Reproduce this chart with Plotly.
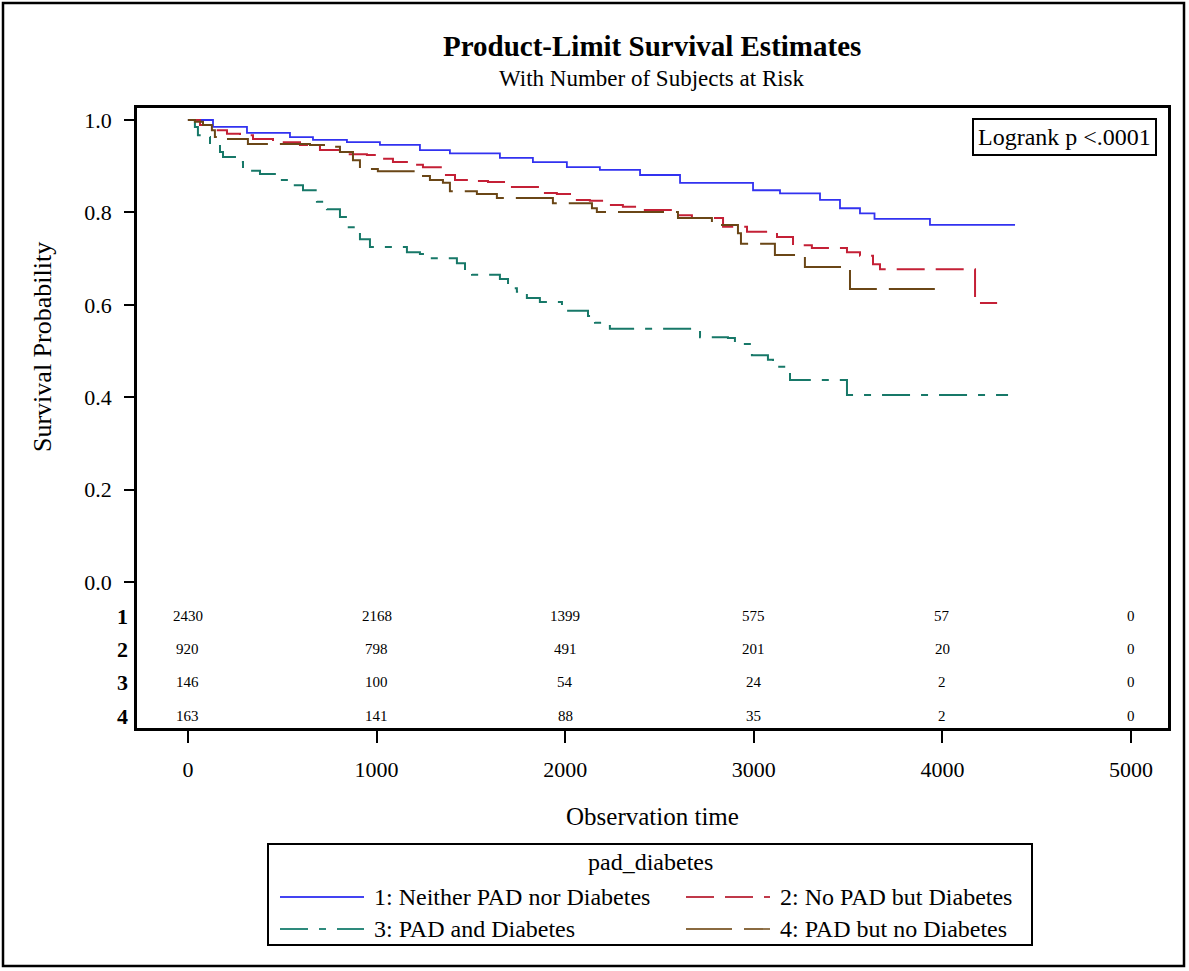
import plotly.graph_objects as go

# ---------------- data ----------------
group_names = ["1: Neither PAD nor Diabetes", "2: No PAD but Diabetes",
               "3: PAD and Diabetes", "4: PAD but no Diabetes"]

t1 = [0, 133, 313, 541, 663, 843, 1018, 1230, 1389, 1654, 1829, 2009, 2184, 2397,
      2609, 2996, 3139, 3351, 3457, 3563, 3640, 3934, 4385]
s1 = [1.0, 0.985, 0.972, 0.963, 0.957, 0.952, 0.946, 0.935, 0.928, 0.918, 0.909, 0.898,
      0.892, 0.881, 0.864, 0.848, 0.841, 0.827, 0.809, 0.798, 0.786, 0.773, 0.773]

t2 = [0, 64, 133, 207, 276, 345, 451, 594, 700, 806, 949, 1018, 1087, 1177, 1246, 1347,
      1416, 1532, 1591, 1707, 1882, 1956, 2062, 2131, 2237, 2306, 2397, 2593, 2672, 2837,
      2964, 3123, 3208, 3308, 3494, 3563, 3632, 3669, 4173, 4290]
s2 = [1.0, 0.989, 0.978, 0.970, 0.967, 0.959, 0.952, 0.946, 0.935, 0.926, 0.924, 0.916,
      0.909, 0.903, 0.898, 0.881, 0.870, 0.868, 0.866, 0.855, 0.842, 0.840, 0.827, 0.825,
      0.816, 0.812, 0.805, 0.794, 0.788, 0.769, 0.758, 0.747, 0.729, 0.723, 0.714, 0.706,
      0.688, 0.677, 0.604, 0.604]

t3 = [0, 37, 53, 74, 117, 170, 186, 265, 292, 382, 472, 541, 610, 684, 737, 806, 843,
      912, 965, 1161, 1230, 1272, 1426, 1469, 1506, 1654, 1697, 1744, 1797, 1866, 1983,
      2009, 2121, 2158, 2237, 2715, 2863, 2900, 2990, 3075, 3102, 3192, 3494, 4348]
s3 = [1.0, 0.985, 0.967, 0.963, 0.948, 0.931, 0.920, 0.909, 0.890, 0.883, 0.870, 0.859,
      0.848, 0.823, 0.807, 0.790, 0.768, 0.742, 0.725, 0.714, 0.710, 0.701, 0.690, 0.671,
      0.665, 0.656, 0.636, 0.628, 0.615, 0.606, 0.593, 0.587, 0.576, 0.561, 0.548, 0.530,
      0.528, 0.515, 0.491, 0.481, 0.466, 0.437, 0.405, 0.405]

t4 = [0, 37, 80, 127, 143, 170, 318, 647, 737, 806, 875, 912, 1007, 1219, 1283, 1352,
      1389, 1532, 1638, 1935, 2142, 2168, 2598, 2778, 2916, 2932, 3112, 3271, 3510, 4014]
s4 = [1.0, 0.996, 0.989, 0.978, 0.963, 0.959, 0.948, 0.946, 0.942, 0.931, 0.913, 0.894,
      0.889, 0.879, 0.870, 0.864, 0.846, 0.840, 0.831, 0.820, 0.809, 0.801, 0.788, 0.773,
      0.755, 0.732, 0.708, 0.682, 0.634, 0.634]

risk_times = [0, 1000, 2000, 3000, 4000, 5000]
risk_labels = ["1", "2", "3", "4"]
risk_counts = [
    [2430, 2168, 1399, 575, 57, 0],
    [920, 798, 491, 201, 20, 0],
    [146, 100, 54, 24, 2, 0],
    [163, 141, 88, 35, 2, 0],
]

x_ticks = [0, 1000, 2000, 3000, 4000, 5000]
y_ticks = [0.0, 0.2, 0.4, 0.6, 0.8, 1.0]

# ---------------- styles ----------------
colors = ["#3232F0", "#C42036", "#177868", "#6A4616"]
dashes = ["solid", "28px,11px", "28px,11px,7px,11px", "46px,12px"]
widths = [1.8, 2.0, 2.0, 2.0]
legend_colors = ["#4444F2", "#C0394A", "#2E8A7C", "#8A6A40"]

W, H = 1189, 971
PL, PR, PT, PB = 137, 1168, 108, 728  # plot area pixel edges


def px2x(px):
    return (px - PL) / (PR - PL)


def py2y(py):
    return (PB - py) / (PB - PT)


SERIF = "Liberation Serif, Times New Roman, serif"


def label(text, px, py, size, xanchor="center", yanchor="middle", **kw):
    return dict(text=text, xref="paper", yref="paper", x=px2x(px), y=py2y(py),
                xanchor=xanchor, yanchor=yanchor, showarrow=False,
                font=dict(family=SERIF, size=size, color="black"), **kw)


fig = go.Figure()
series = [(t1, s1), (t2, s2), (t3, s3), (t4, s4)]
for i, (t, s) in enumerate(series):
    fig.add_trace(go.Scatter(
        x=t, y=s, mode="lines", name=group_names[i],
        line=dict(color=colors[i], dash=dashes[i], width=widths[i], shape="hv"),
        showlegend=False, hoverinfo="x+y+name",
    ))

annotations = []
annotations.append(label("<b>Product-Limit Survival Estimates</b>", 652, 46, 29))
annotations.append(label("With Number of Subjects at Risk", 652, 79, 23))
annotations.append(label("Survival Probability", 42, 347, 26, textangle=-90))
annotations.append(label("Observation time", 652, 816, 25))
annotations.append(label("Logrank p <.0001", 1157, 118, 24, xanchor="right", yanchor="top",
                         bordercolor="black", borderwidth=2, borderpad=4, bgcolor="white"))

# at-risk table
row_py = [616, 649, 682, 716]
for r, lab in enumerate(risk_labels):
    annotations.append(label("<b>" + lab + "</b>", 122, row_py[r], 22))
    for c, tt in enumerate(risk_times):
        annotations.append(dict(text=str(risk_counts[r][c]), xref="x", yref="paper",
                                x=tt, y=py2y(row_py[r]), xanchor="center", yanchor="middle",
                                showarrow=False,
                                font=dict(family=SERIF, size=15, color="black")))

shapes = []
shapes.append(dict(type="rect", xref="paper", yref="paper",
                   x0=px2x(3), x1=px2x(1184), y0=py2y(966), y1=py2y(3),
                   line=dict(color="black", width=2.5), layer="below"))
# legend
shapes.append(dict(type="rect", xref="paper", yref="paper",
                   x0=px2x(268), x1=px2x(1032), y0=py2y(945), y1=py2y(844),
                   line=dict(color="black", width=2)))
annotations.append(label("pad_diabetes", 650, 862, 24))
leg_pos = [(280, 897), (686, 897), (280, 929), (686, 929)]
for i, (lx, ly) in enumerate(leg_pos):
    shapes.append(dict(type="line", xref="paper", yref="paper",
                       x0=px2x(lx), x1=px2x(lx + 84), y0=py2y(ly), y1=py2y(ly),
                       line=dict(color=legend_colors[i], width=1.8, dash=dashes[i])))
    annotations.append(label(group_names[i], lx + 92, ly, 24, xanchor="left"))

fig.update_layout(
    width=W, height=H,
    margin=dict(l=PL, r=W - PR, t=PT, b=H - PB, pad=0),
    paper_bgcolor="white", plot_bgcolor="white",
    showlegend=False,
    annotations=annotations, shapes=shapes,
    xaxis=dict(range=[-270, 5196], tickvals=x_ticks, ticks="outside", ticklen=12,
               tickwidth=2, tickcolor="black", showgrid=False, zeroline=False,
               showline=True, linecolor="black", linewidth=2.5, mirror=True,
               ticklabelstandoff=8,
               tickfont=dict(family=SERIF, size=22, color="black")),
    yaxis=dict(range=[-0.316, 1.026], tickvals=y_ticks, tickformat=".1f",
               ticks="outside", ticklen=10, tickwidth=2, tickcolor="black",
               showgrid=False, zeroline=False, showline=True, linecolor="black",
               linewidth=2.5, mirror=True, ticklabelstandoff=8,
               tickfont=dict(family=SERIF, size=22, color="black")),
)

fig.write_html("out.html", config={"displayModeBar": False},
               post_script="document.body.style.margin='0';document.body.style.overflow='hidden';")
